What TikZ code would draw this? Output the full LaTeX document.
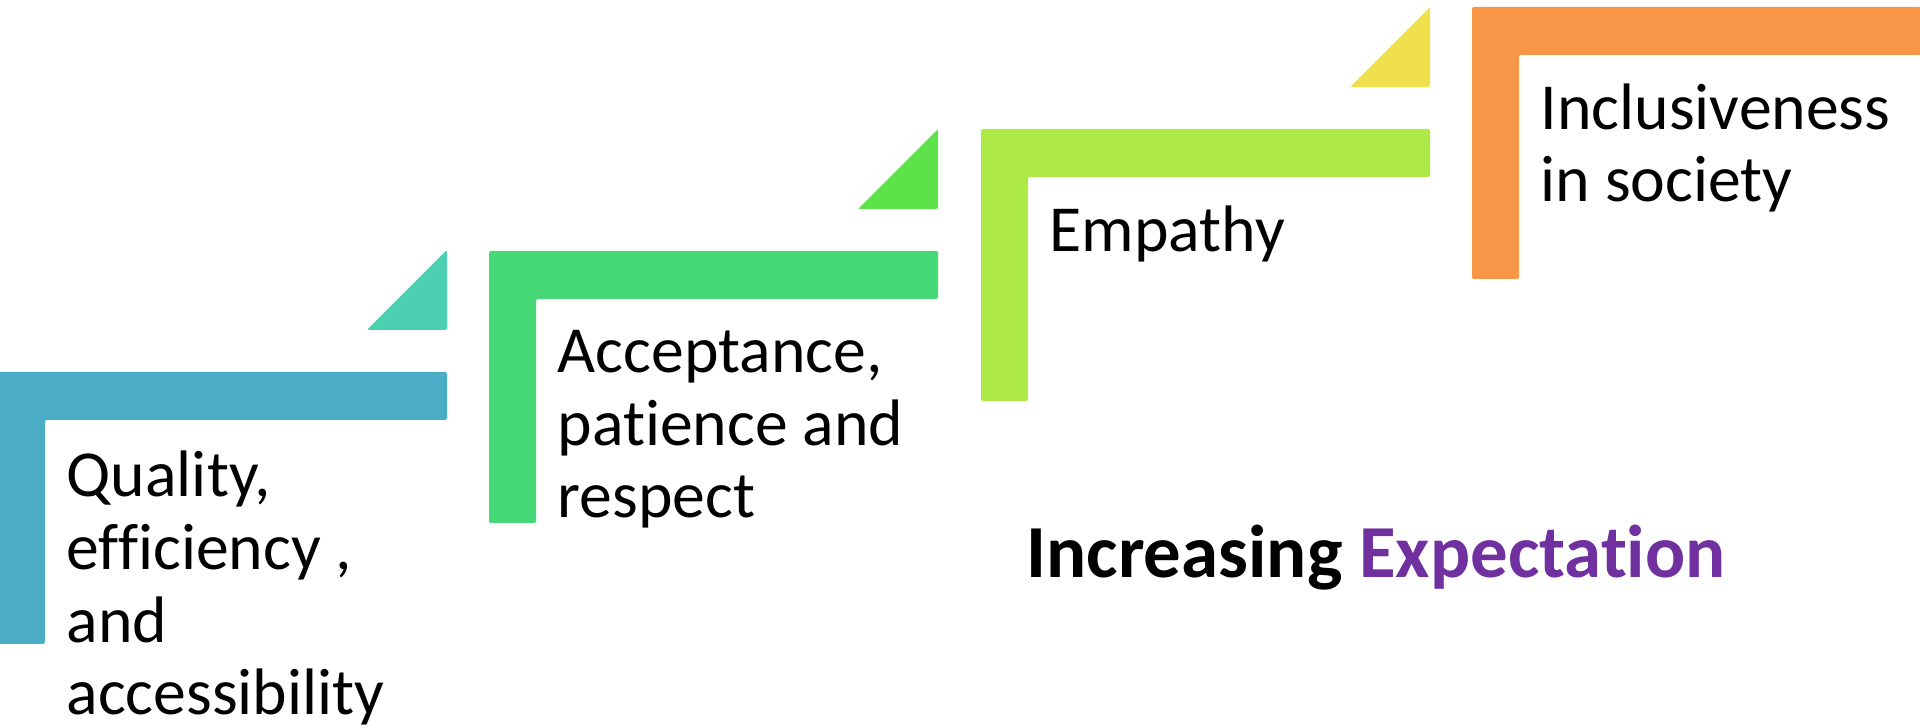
\documentclass[tikz,border=0pt]{standalone}
\usepackage{fontspec}
\setmainfont[Ligatures=NoCommon]{Carlito}
\usepackage{tikz}
\usetikzlibrary{positioning,calc}

\definecolor{stepblue}{HTML}{4BACC6}
\definecolor{stepgreen}{HTML}{47D878}
\definecolor{steplime}{HTML}{ADEA47}
\definecolor{steporange}{HTML}{F79646}
\definecolor{tricyan}{HTML}{4BCFB0}
\definecolor{trigreen}{HTML}{5EE24A}
\definecolor{triyellow}{HTML}{F0E04B}
\definecolor{expurple}{HTML}{7030A0}

\begin{document}
\begin{tikzpicture}[
    stair/.style={fill=#1, rounded corners=0.02cm},
    tri/.style={fill=#1, rounded corners=0.02cm},
    lbl/.style={anchor=base west, align=left, inner sep=0pt, font=\fontsize{18.7}{20.7}\selectfont},
    head/.style={anchor=base west, inner sep=0pt, font=\fontsize{21.3}{25}\selectfont\bfseries}
]
\useasboundingbox (0,0) rectangle (19.2,7.28);

% steps
\fill[stair=stepblue] (-0.02,3.56) -- ++(4.49,0) -- ++(0,-0.48) -- ++(-4.02,0) -- ++(0,-2.24) -- ++(-0.47,0) -- cycle;
\fill[stair=stepgreen] (4.89,4.77) -- ++(4.49,0) -- ++(0,-0.48) -- ++(-4.02,0) -- ++(0,-2.24) -- ++(-0.47,0) -- cycle;
\fill[stair=steplime] (9.81,5.99) -- ++(4.49,0) -- ++(0,-0.48) -- ++(-4.02,0) -- ++(0,-2.24) -- ++(-0.47,0) -- cycle;
\fill[stair=steporange] (14.72,7.21) -- ++(4.49,0) -- ++(0,-0.48) -- ++(-4.02,0) -- ++(0,-2.24) -- ++(-0.47,0) -- cycle;

% small triangles
\fill[tri=tricyan] (3.67,3.98) -- (4.47,3.98) -- (4.47,4.78) -- cycle;
\fill[tri=trigreen] (8.58,5.19) -- (9.38,5.19) -- (9.38,5.99) -- cycle;
\fill[tri=triyellow] (13.50,6.41) -- (14.30,6.41) -- (14.30,7.21) -- cycle;

% labels (base = last line)
\node[lbl] (qual) at (0.66,0.13) {Quality,\\efficiency ,\\and\\accessibility};
\node[lbl] (accept) at (5.57,2.10) {Acceptance,\\patience and\\respect};
\node[lbl] (emp) at (10.49,4.76) {Empathy};
\node[lbl] (incl) at (15.40,5.26) {Inclusiveness\\in society};

\node[head] (expect) at (10.26,1.50) {Increasing \textcolor{expurple}{Expectation}};
\end{tikzpicture}
\end{document}
